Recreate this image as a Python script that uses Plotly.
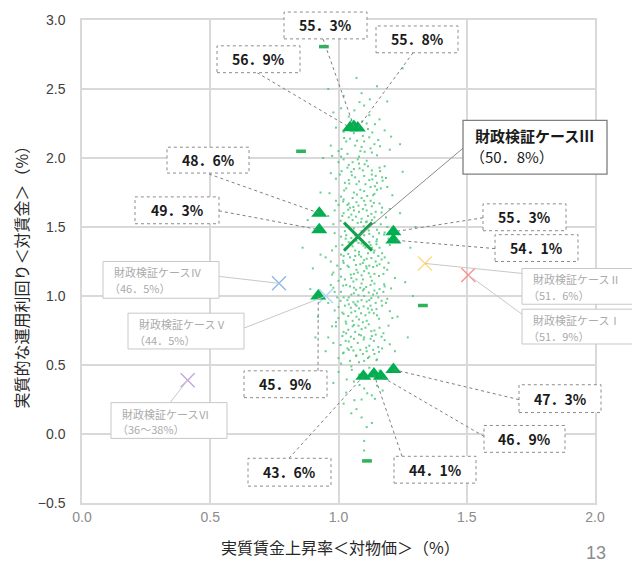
import plotly.graph_objects as go

# 財政検証ケースと試算結果（実質賃金上昇率 vs 実質的な運用利回り）
tri_x = [1.045, 1.06, 1.075, 0.925, 0.925, 1.214, 1.214, 0.921, 1.097, 1.138, 1.165, 1.214]
tri_y = [2.22, 2.228, 2.218, 1.60, 1.48, 1.465, 1.405, 1.00, 0.418, 0.435, 0.418, 0.467]
tri_text = ['56．9%', '55．3%', '55．8%', '48．6%', '49．3%', '55．3%',
            '54．1%', '45．9%', '43．6%', '44．1%', '46．9%', '47．3%']

case_names = ['財政検証ケースⅠ', '財政検証ケースⅡ', '財政検証ケースⅢ',
              '財政検証ケースⅣ', '財政検証ケースⅤ', '財政検証ケースⅥ']
case_x = [1.506, 1.337, 1.076, 0.768, 0.951, 0.412]
case_y = [1.152, 1.236, 1.43, 1.092, 1.00, 0.39]
case_rate = ['（51．9%）', '（51．6%）', '（50．8%）', '（46．5%）', '（44．5%）', '（36～38%）']

odd_x = [0.943, 0.854, 1.329, 1.111]
odd_y = [2.807, 2.049, 0.931, -0.195]

cloud = [
    (1.02, 2.45), (1.10, 2.38), (1.15, 2.52), (0.98, 2.33), (1.07, 2.58), (1.19, 2.41),
    (1.04, 2.30), (1.12, 2.31), (1.25, 2.65), (0.96, 2.50), (1.09, 2.47), (1.01, 2.36),
    (1.00, 2.05), (1.03, 2.12), (1.06, 2.18), (1.09, 2.08), (1.12, 2.15), (1.15, 2.02),
    (1.18, 2.20), (0.99, 2.22), (1.05, 2.27), (1.11, 2.25), (1.08, 2.01), (1.14, 2.10),
    (1.02, 2.19), (0.97, 2.09), (1.20, 2.06), (1.16, 2.28), (1.01, 2.01), (1.10, 2.12),
    (1.07, 2.24), (1.13, 2.04),
    (1.01, 1.72), (1.04, 1.95), (1.07, 1.81), (1.10, 1.76), (1.13, 1.88), (1.16, 1.93),
    (1.19, 1.79), (0.99, 1.85), (1.02, 1.70), (1.05, 1.90), (1.08, 1.83), (1.11, 1.98),
    (1.14, 1.74), (1.17, 1.86), (1.00, 1.97), (1.03, 1.78), (1.06, 1.92), (1.09, 1.71),
    (1.12, 1.84), (1.15, 1.77), (0.97, 1.89), (1.21, 1.73), (1.04, 1.84), (1.08, 1.96),
    (1.13, 1.91), (1.06, 1.75), (1.10, 1.87), (1.02, 1.99), (1.15, 1.82), (1.18, 1.94),
    (0.98, 1.52), (1.00, 1.66), (1.03, 1.44), (1.05, 1.59), (1.07, 1.68), (1.09, 1.47),
    (1.11, 1.62), (1.13, 1.55), (1.15, 1.41), (1.17, 1.64), (1.19, 1.50), (1.01, 1.43),
    (1.04, 1.57), (1.06, 1.49), (1.08, 1.61), (1.10, 1.69), (1.12, 1.45), (1.14, 1.53),
    (1.16, 1.67), (1.02, 1.60), (1.05, 1.42), (1.09, 1.56), (1.13, 1.65), (1.18, 1.46),
    (0.96, 1.58), (1.20, 1.63), (1.03, 1.51), (1.07, 1.40), (1.11, 1.54), (1.15, 1.48),
    (0.99, 1.69), (1.06, 1.62), (1.10, 1.44), (1.14, 1.57), (1.04, 1.67),
    (0.97, 1.25), (0.99, 1.36), (1.01, 1.14), (1.02, 1.29), (1.04, 1.21), (1.05, 1.38),
    (1.07, 1.12), (1.08, 1.32), (1.10, 1.18), (1.11, 1.27), (1.13, 1.35), (1.14, 1.16),
    (1.16, 1.23), (1.17, 1.31), (1.19, 1.19), (1.20, 1.37), (1.00, 1.11), (1.03, 1.34),
    (1.06, 1.26), (1.09, 1.15), (1.12, 1.39), (1.15, 1.22), (1.18, 1.28), (0.98, 1.17),
    (1.02, 1.24), (1.05, 1.13), (1.08, 1.30), (1.11, 1.20), (1.14, 1.33), (1.04, 1.39),
    (1.07, 1.19), (1.10, 1.26), (1.13, 1.11), (1.16, 1.35), (1.01, 1.30), (1.06, 1.16),
    (1.09, 1.38), (1.12, 1.22), (0.95, 1.28), (1.22, 1.13),
    (0.96, 0.95), (0.98, 1.06), (1.00, 0.84), (1.02, 0.99), (1.03, 1.08), (1.05, 0.88),
    (1.06, 1.02), (1.08, 0.91), (1.09, 1.09), (1.11, 0.82), (1.12, 0.97), (1.14, 1.04),
    (1.15, 0.86), (1.17, 0.93), (1.18, 1.07), (1.20, 0.89), (0.99, 0.81), (1.01, 1.03),
    (1.04, 0.94), (1.07, 0.85), (1.10, 1.00), (1.13, 0.90), (1.16, 1.05), (1.19, 0.98),
    (1.02, 0.87), (1.05, 1.01), (1.08, 0.83), (1.11, 0.96), (1.14, 1.09), (1.00, 0.92),
    (1.03, 0.80), (1.06, 1.06), (1.09, 0.97), (1.12, 0.88), (1.15, 1.02), (0.97, 1.08),
    (1.21, 0.84), (1.07, 0.93), (1.10, 1.05), (1.04, 0.99),
    (0.98, 0.66), (1.00, 0.55), (1.02, 0.74), (1.04, 0.61), (1.06, 0.79), (1.08, 0.52),
    (1.10, 0.70), (1.12, 0.64), (1.14, 0.58), (1.16, 0.77), (1.18, 0.68), (1.01, 0.51),
    (1.03, 0.73), (1.05, 0.63), (1.07, 0.57), (1.09, 0.76), (1.11, 0.60), (1.13, 0.71),
    (1.15, 0.54), (0.99, 0.78), (1.04, 0.67), (1.08, 0.72), (1.12, 0.56), (1.17, 0.62),
    (1.06, 0.69), (1.10, 0.53), (1.02, 0.59), (1.14, 0.75), (1.20, 0.65), (0.96, 0.70),
    (1.00, 0.45), (1.03, 0.30), (1.06, 0.38), (1.09, 0.25), (1.12, 0.48), (1.15, 0.35),
    (1.02, 0.22), (1.08, 0.43), (1.13, 0.28), (1.05, 0.49), (1.18, 0.40), (0.98, 0.37),
    (1.10, 0.33), (1.07, 0.18), (1.16, 0.46),
    (1.09, 0.12), (1.11, 0.05), (1.10, -0.05), (1.05, 0.15), (1.13, 0.08), (1.10, -0.12),
    (0.88, 1.55), (0.90, 1.20), (0.92, 0.85), (0.86, 1.35), (0.93, 1.75), (0.91, 0.70),
    (0.94, 2.00), (0.89, 1.05), (1.24, 1.60), (1.26, 1.10), (1.23, 0.85), (1.28, 1.35),
    (1.25, 1.90), (1.27, 0.70), (1.24, 2.10), (1.30, 1.50), (0.95, 0.60), (1.22, 0.60),
    (0.93, 1.30), (1.29, 1.00),
    (1.035, 1.93), (1.065, 1.86), (1.095, 1.91), (1.125, 1.79), (1.055, 1.71), (1.085, 1.77),
    (1.115, 1.94), (1.145, 1.87), (1.025, 1.82), (1.075, 1.99), (1.045, 1.64), (1.075, 1.53),
    (1.105, 1.66), (1.135, 1.43), (1.025, 1.47), (1.055, 1.55), (1.085, 1.45), (1.115, 1.58),
    (1.145, 1.61), (1.165, 1.52), (1.015, 1.58), (1.095, 1.63), (1.125, 1.69), (1.035, 1.66),
    (1.065, 1.44), (1.035, 1.22), (1.065, 1.33), (1.095, 1.24), (1.125, 1.14), (1.155, 1.29),
    (1.015, 1.37), (1.045, 1.28), (1.075, 1.17), (1.105, 1.35), (1.135, 1.21), (1.025, 1.12),
    (1.055, 1.36), (1.085, 1.23), (1.115, 1.31), (1.145, 1.25), (1.175, 1.16), (0.995, 1.22),
    (1.065, 1.29), (1.095, 1.12), (1.125, 1.37), (1.035, 0.97), (1.065, 0.89), (1.095, 1.04),
    (1.125, 0.93), (1.155, 0.99), (1.015, 0.88), (1.045, 1.07), (1.075, 0.96), (1.105, 0.86),
    (1.135, 1.01), (1.025, 0.93), (1.055, 0.82), (1.085, 1.06), (1.115, 0.91), (1.145, 0.95),
    (1.175, 1.03), (0.995, 0.99), (1.065, 0.94), (1.095, 0.81), (1.125, 1.08), (1.035, 0.62),
    (1.065, 0.74), (1.095, 0.58), (1.125, 0.69), (1.155, 0.63), (1.045, 0.53), (1.075, 0.66),
    (1.105, 0.77), (1.135, 0.61), (1.015, 0.71), (1.055, 0.78), (1.085, 0.61), (1.115, 0.55),
    (1.145, 0.72), (1.035, 2.03), (1.065, 2.09), (1.095, 2.16), (1.125, 2.07), (1.155, 2.13),
    (1.045, 2.14), (1.085, 2.05), (1.115, 2.21), (1.055, 1.97), (1.105, 1.81), (1.135, 1.73),
    (1.165, 1.78), (1.005, 1.88), (0.985, 1.62), (1.185, 1.57), (0.975, 1.33), (1.195, 1.24),
    (0.985, 1.03), (1.185, 0.95), (0.975, 0.78), (1.175, 0.73),
    (1.012, 1.905), (1.042, 1.815), (1.072, 1.735), (1.102, 1.955), (1.132, 1.845), (1.162, 1.905),
    (1.022, 1.765), (1.052, 1.875), (1.082, 1.925), (1.112, 1.725), (1.142, 1.795), (1.172, 1.835),
    (1.008, 1.545), (1.038, 1.625), (1.068, 1.575), (1.098, 1.505), (1.128, 1.595), (1.158, 1.455),
    (1.018, 1.685), (1.048, 1.485), (1.078, 1.655), (1.108, 1.535), (1.138, 1.675), (1.168, 1.605),
    (1.028, 1.415), (1.058, 1.645), (1.088, 1.535), (1.118, 1.475), (1.148, 1.395), (1.178, 1.445),
    (1.008, 1.195), (1.038, 1.305), (1.068, 1.225), (1.098, 1.365), (1.128, 1.275), (1.158, 1.145),
    (1.018, 1.255), (1.048, 1.155), (1.078, 1.385), (1.108, 1.215), (1.138, 1.315), (1.168, 1.265),
    (1.028, 1.345), (1.058, 1.105), (1.088, 1.285), (1.118, 1.165), (1.148, 1.375), (1.178, 1.205),
    (1.008, 0.965), (1.038, 0.855), (1.068, 1.045), (1.098, 0.925), (1.128, 0.985), (1.158, 0.835),
    (1.018, 1.075), (1.048, 0.915), (1.078, 1.005), (1.108, 1.065), (1.138, 0.875), (1.168, 0.965),
    (1.028, 0.815), (1.058, 0.955), (1.088, 0.875), (1.118, 1.025), (1.148, 0.905), (1.178, 1.085),
    (1.008, 0.645), (1.038, 0.755), (1.068, 0.565), (1.098, 0.685), (1.128, 0.745), (1.158, 0.595),
    (1.018, 0.585), (1.048, 0.705), (1.078, 0.785), (1.108, 0.625), (1.138, 0.675), (1.168, 0.705),
    (1.028, 0.675), (1.058, 0.605), (1.088, 0.715), (1.118, 0.795), (1.148, 0.535),
    (1.012, 2.065), (1.042, 2.205), (1.072, 2.125), (1.102, 2.045), (1.132, 2.185), (1.162, 2.085),
    (1.022, 2.145), (1.092, 2.265), (1.142, 2.245), (1.062, 2.345), (1.122, 2.425), (1.082, 2.405),
    (1.052, 0.465), (1.082, 0.355), (1.112, 0.295), (1.142, 0.255), (1.032, 0.395), (1.172, 0.315),
    (1.062, 0.245), (1.102, 0.405),
    (0.985, 1.455), (0.975, 1.155), (0.985, 0.895), (0.965, 1.745), (1.195, 1.415), (1.205, 1.055),
    (1.185, 1.855), (1.195, 0.785), (0.975, 2.015), (1.205, 2.155),
]
cloud_x = [p[0] for p in cloud]
cloud_y = [p[1] for p in cloud]

# plot frame in pixels (632x565 page)
L, R, T, B = 82, 595, 17, 503
X_RANGE = [0, 2]
Y_RANGE = [-0.5, 3.0]


def px(xp):
    return (xp - L) / (R - L)


def py(yp):
    return (B - yp) / (B - T)


def dx(xp):
    return X_RANGE[0] + px(xp) * (X_RANGE[1] - X_RANGE[0])


def dy(yp):
    return Y_RANGE[0] + py(yp) * (Y_RANGE[1] - Y_RANGE[0])


# label boxes: x0, y0, x1, y1, anchor x, anchor y (pixels)
tri_boxes = [
    (217, 43, 300, 70, 257, 70),
    (284, 9, 367, 36, 323, 36),
    (376, 23, 458, 50, 413, 50),
    (167, 145, 249, 171, 209, 172),
    (135, 195, 219, 222, 219, 209),
    (483, 202, 566, 229, 483, 216),
    (495, 233, 578, 260, 495, 247),
    (244, 370, 327, 397, 318, 370),
    (248, 458, 331, 486, 289, 458),
    (394, 456, 476, 483, 402, 456),
    (484, 425, 565, 452, 484, 436),
    (519, 384, 601, 412, 519, 399),
]
case_boxes = [
    (522, 308, 645, 343, 522, 313),
    (522, 267, 645, 303, 522, 272),
    (463, 118, 607, 172, 463, 146),
    (103, 260, 219, 297, 219, 275),
    (128, 312, 244, 348, 244, 327),
    (111, 402, 227, 438, 170, 402),
]
case_colors = ['#ff8c8c', '#ffd87a', '#12a24c', '#8ab8e6', '#a8d8f5', '#c8a2dc']

JP = 'Noto Sans CJK JP'

fig = go.Figure()
fig.add_trace(go.Scatter(x=cloud_x, y=cloud_y, mode='markers',
                         marker=dict(symbol='square', size=2, color='#4cc77a', opacity=0.85),
                         hoverinfo='skip'))
fig.add_trace(go.Scatter(x=odd_x, y=odd_y, mode='markers',
                         marker=dict(symbol='line-ew', size=7,
                                     line=dict(width=3.5, color='#2db35a')),
                         hoverinfo='skip'))
for i in [0, 1, 3, 4, 5]:
    fig.add_trace(go.Scatter(x=[case_x[i]], y=[case_y[i]], mode='markers',
                             marker=dict(symbol='x-thin', size=14,
                                         line=dict(width=1.3, color=case_colors[i])),
                             hoverinfo='skip'))
fig.add_trace(go.Scatter(x=tri_x, y=tri_y, mode='markers',
                         marker=dict(symbol='triangle-up', size=14, color='#00b050'),
                         hoverinfo='skip'))
fig.add_trace(go.Scatter(x=[case_x[2]], y=[case_y[2]], mode='markers',
                         marker=dict(symbol='x-thin', size=28,
                                     line=dict(width=3, color=case_colors[2])),
                         hoverinfo='skip'))

shapes = []
annotations = []
for (x0, y0, x1, y1, ax, ay), tx, ty, txt in zip(tri_boxes, tri_x, tri_y, tri_text):
    shapes.append(dict(type='line', xref='x', yref='y', x0=dx(ax), y0=dy(ay), x1=tx, y1=ty,
                       line=dict(color='#7f7f7f', width=1, dash='dot'), layer='above'))
    shapes.append(dict(type='rect', xref='paper', yref='paper',
                       x0=px(x0), y0=py(y1), x1=px(x1), y1=py(y0),
                       fillcolor='white', line=dict(color='#8c8c8c', width=1, dash='dot'),
                       layer='above'))
    annotations.append(dict(xref='paper', yref='paper', x=px((x0 + x1) / 2), y=py((y0 + y1) / 2),
                            xanchor='center', yanchor='middle',
                            text='<b>%s</b>' % txt, showarrow=False,
                            font=dict(family=JP, size=14, color='#1a1a1a')))

for i, (x0, y0, x1, y1, ax, ay) in enumerate(case_boxes):
    main = i == 2
    line_col = '#8c8c8c' if main else '#c8c8c8'
    shapes.append(dict(type='line', xref='x', yref='y', x0=dx(ax), y0=dy(ay),
                       x1=case_x[i], y1=case_y[i],
                       line=dict(color=line_col, width=1), layer='above'))
    shapes.append(dict(type='rect', xref='paper', yref='paper',
                       x0=px(x0), y0=py(y1), x1=px(x1), y1=py(y0),
                       fillcolor='white',
                       line=dict(color='#7f7f7f' if main else '#c8c8c8', width=1.3 if main else 1),
                       layer='above'))
    if main:
        annotations.append(dict(xref='paper', yref='paper', x=px(x0 + 10), y=py(y0 + 15),
                                xanchor='left', yanchor='middle',
                                text='<b>%s</b>' % case_names[i], showarrow=False,
                                font=dict(family=JP, size=15, color='#1a1a1a')))
        annotations.append(dict(xref='paper', yref='paper', x=px(x0 + 5), y=py(y0 + 36),
                                xanchor='left', yanchor='middle',
                                text=case_rate[i], showarrow=False,
                                font=dict(family=JP, size=15, color='#1a1a1a')))
    else:
        annotations.append(dict(xref='paper', yref='paper', x=px(x0 + 10), y=py(y0 + 11),
                                xanchor='left', yanchor='middle', borderpad=0,
                                text=case_names[i], showarrow=False,
                                font=dict(family=JP, size=11, color='#ababab')))
        annotations.append(dict(xref='paper', yref='paper', x=px(x0 + 5), y=py(y0 + 27),
                                xanchor='left', yanchor='middle', borderpad=0,
                                text=case_rate[i], showarrow=False,
                                font=dict(family=JP, size=11, color='#ababab')))

annotations.append(dict(xref='paper', yref='paper', x=px(21), y=py(272), textangle=-90,
                        xanchor='center', yanchor='middle',
                        text='実質的な運用利回り＜対賃金＞（%）', showarrow=False,
                        font=dict(family=JP, size=16, color='#262626')))
annotations.append(dict(xref='paper', yref='paper', x=px(340), y=py(547),
                        xanchor='center', yanchor='middle',
                        text='実質賃金上昇率＜対物価＞（%）', showarrow=False,
                        font=dict(family=JP, size=16, color='#262626')))
annotations.append(dict(xref='paper', yref='paper', x=px(596), y=py(553),
                        xanchor='center', yanchor='middle',
                        text='13', showarrow=False,
                        font=dict(family='Liberation Sans', size=18, color='#8c8c8c')))

fig.update_layout(
    width=632, height=565,
    margin=dict(l=L, r=632 - R, t=T, b=565 - B),
    paper_bgcolor='white', plot_bgcolor='white',
    showlegend=False,
    shapes=shapes,
    annotations=annotations,
)
fig.update_xaxes(range=X_RANGE, dtick=0.5, tickformat='.1f', showgrid=True,
                 gridcolor='#d9d9d9', gridwidth=1.5, zeroline=False,
                 showline=True, linecolor='#d9d9d9', linewidth=1.5, mirror=True,
                 ticks='', tickfont=dict(family='Liberation Sans Narrow, Liberation Sans', size=14, color='#8c8c8c'))
fig.update_yaxes(range=Y_RANGE, dtick=0.5, tickformat='.1f', showgrid=True,
                 gridcolor='#d9d9d9', gridwidth=1.5, zeroline=False,
                 showline=True, linecolor='#d9d9d9', linewidth=1.5, mirror=True,
                 ticks='', ticklabelstandoff=12,
                 tickfont=dict(family='Liberation Sans', size=14, color='#404040'))

# the page body has a default margin; drop it so the chart sits at the window origin
fig.write_html("out.html", config={'displayModeBar': False},
               post_script="document.body.style.margin='0';")
